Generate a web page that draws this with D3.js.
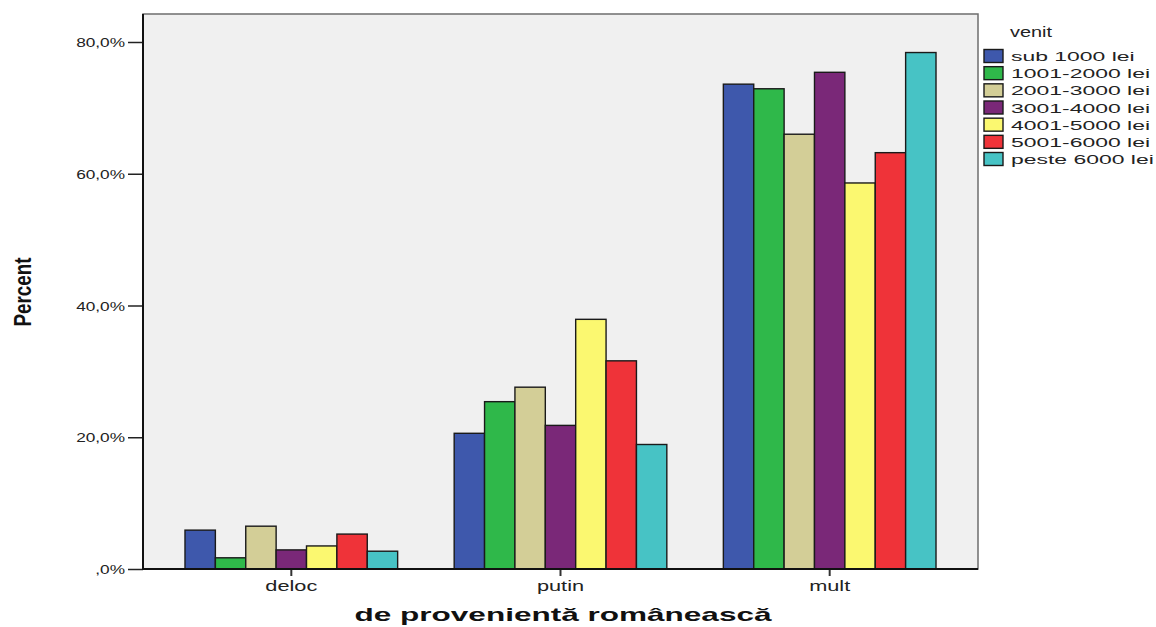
<!DOCTYPE html>
<html><head><meta charset="utf-8">
<script src="https://cdn.jsdelivr.net/npm/d3@7"></script>
<style>body{margin:0;background:#fff}svg{display:block}</style>
</head><body>
<svg id="c" width="1156" height="627"></svg>
<script>
const categories = ["deloc", "putin", "mult"];
const seriesNames = ["sub 1000 lei", "1001-2000 lei", "2001-3000 lei", "3001-4000 lei", "4001-5000 lei", "5001-6000 lei", "peste 6000 lei"];
const sub1000 = [5.9, 20.6, 73.6];
const v1001_2000 = [1.7, 25.4, 72.9];
const v2001_3000 = [6.5, 27.6, 66.0];
const v3001_4000 = [2.9, 21.8, 75.4];
const v4001_5000 = [3.5, 37.9, 58.6];
const v5001_6000 = [5.3, 31.6, 63.2];
const peste6000 = [2.7, 18.9, 78.4];
const seriesValues = [sub1000, v1001_2000, v2001_3000, v3001_4000, v4001_5000, v5001_6000, peste6000];
const colors = ["#3e58ac", "#2fb84a", "#d3ce97", "#7a2878", "#fbf870", "#ef3339", "#47c3c5"];
const yTicks = [0, 20, 40, 60, 80];
const yTickLabels = [",0%", "20,0%", "40,0%", "60,0%", "80,0%"];
const xTitle = "de provenientă românească";
const yTitle = "Percent";
const legendTitle = "venit";

const svg = d3.select("#c");
const L = 143, R = 978, T = 14, B = 569;

const x = d3.scaleBand().domain(categories).range([L, R]).paddingInner(0.21).paddingOuter(0.156);
const xi = d3.scaleBand().domain(seriesNames).range([0, x.bandwidth()]);
const y = d3.scaleLinear().domain([0, 84.25]).range([B, T]);

const font = "'Liberation Sans', Arial, sans-serif";

function stretch(sel, k) {
  sel.each(function () {
    const t = d3.select(this);
    const tx = +t.attr("x") || 0, ty = +t.attr("y") || 0;
    t.attr("x", 0).attr("y", 0).attr("transform", `translate(${tx},${ty}) scale(${k},1)`);
  });
}

// plot background
svg.append("rect").attr("x", L).attr("y", T).attr("width", R - L).attr("height", B - T)
  .attr("fill", "#f0f0f0").attr("stroke", "#6e6e6e").attr("stroke-width", 1.5);

// bars
const g = svg.append("g");
categories.forEach((cat, ci) => {
  seriesNames.forEach((s, si) => {
    const v = seriesValues[si][ci];
    g.append("rect")
      .attr("x", x(cat) + xi(s))
      .attr("y", y(v))
      .attr("width", xi.bandwidth())
      .attr("height", y(0) - y(v))
      .attr("fill", colors[si])
      .attr("stroke", "#1a1a1a").attr("stroke-width", 1.4);
  });
});

// y axis
const ya = svg.append("g").attr("transform", `translate(${L},0)`)
  .call(d3.axisLeft(y).tickValues(yTicks).tickSize(15).tickPadding(3).tickFormat((d, i) => yTickLabels[i]));
ya.select(".domain").remove();
ya.selectAll(".tick line").attr("stroke", "#222").attr("stroke-width", 1.5);
ya.selectAll(".tick text").attr("font-family", font).attr("font-size", 12.5).attr("fill", "#222")
  .attr("dy", "0.36em");
ya.selectAll(".tick text").each(function () {
  const t = d3.select(this);
  const xx = +t.attr("x");
  t.attr("x", 0).attr("transform", `translate(${xx},0) scale(1.38,1)`);
});
svg.append("line").attr("x1", L).attr("x2", L).attr("y1", T).attr("y2", B + 1)
  .attr("stroke", "#111").attr("stroke-width", 2);

// x axis
const xa = svg.append("g").attr("transform", `translate(0,${B})`)
  .call(d3.axisBottom(x).tickSize(7).tickPadding(5));
xa.select(".domain").remove();
xa.selectAll(".tick line").attr("stroke", "#333").attr("stroke-width", 2);
xa.selectAll(".tick text").attr("font-family", font).attr("font-size", 14.5).attr("fill", "#222")
  .attr("dy", "0.71em");
xa.selectAll(".tick text").each(function () {
  const t = d3.select(this);
  const yy = +t.attr("y");
  t.attr("y", 0).attr("transform", `translate(0,${yy}) scale(1.5,1)`);
});
svg.append("line").attr("x1", L).attr("x2", R).attr("y1", B).attr("y2", B)
  .attr("stroke", "#111").attr("stroke-width", 1.8);

// axis titles
svg.append("text").attr("x", 563).attr("y", 621).attr("text-anchor", "middle")
  .attr("font-family", font).attr("font-weight", "bold").attr("font-size", 19).attr("fill", "#111")
  .attr("textLength", 417).attr("lengthAdjust", "spacingAndGlyphs")
  .text(xTitle);
svg.append("text").attr("transform", "translate(31,292) rotate(-90)").attr("text-anchor", "middle")
  .attr("font-family", "'Liberation Sans Narrow', 'Liberation Sans', Arial, sans-serif")
  .attr("font-weight", "bold").attr("font-size", 23).attr("fill", "#111")
  .attr("textLength", 69).attr("lengthAdjust", "spacingAndGlyphs")
  .text(yTitle);

// legend
const lg = svg.append("g");
lg.append("text").attr("x", 1031).attr("y", 37).attr("text-anchor", "middle")
  .attr("font-family", font).attr("font-size", 15.5).attr("fill", "#222")
  .attr("textLength", 42).attr("lengthAdjust", "spacingAndGlyphs").text(legendTitle);
const ly = d3.scalePoint().domain(seriesNames).range([56, 159]);
seriesNames.forEach((s, i) => {
  lg.append("rect").attr("x", 984).attr("y", ly(s) - 6.5).attr("width", 19).attr("height", 13)
    .attr("fill", colors[i]).attr("stroke", "#1a1a1a").attr("stroke-width", 1.4);
  const t = lg.append("text").attr("x", 1011).attr("y", ly(s) + 5)
    .attr("font-family", font).attr("font-size", 13.5).attr("fill", "#222").text(s);
  stretch(t, 1.7);
});
</script>
</body></html>
